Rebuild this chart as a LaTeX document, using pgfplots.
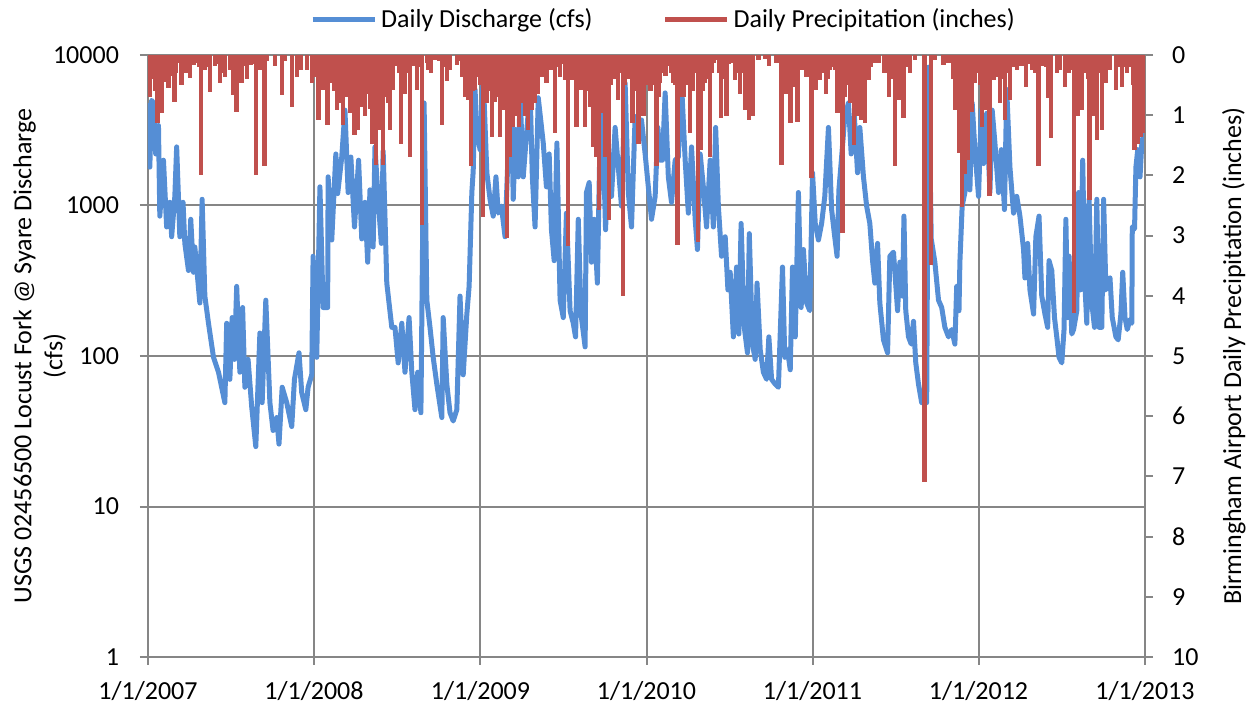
\documentclass[border=0pt]{standalone}
\usepackage{fontspec}
\setmainfont{Carlito}
\usepackage{pgfplots}
\pgfplotsset{compat=1.18}
\definecolor{flowblue}{RGB}{85,142,213}
\definecolor{rainred}{RGB}{192,80,77}
\definecolor{gridgray}{RGB}{134,134,134}
\begin{document}
\begin{tikzpicture}
\pgfplotsset{
  every axis/.append style={
    scale only axis, width=498.5pt, height=301pt,
    xmin=0, xmax=2192,
    font=\fontsize{13}{15.5}\selectfont,
    /pgf/number format/assume math mode=true,
    tick style={gridgray, line width=1pt}, major tick length=4pt,
    axis line style={gridgray, line width=1pt},
    tick align=outside,
  }
}
% discharge, log scale (left)
\begin{axis}[
  ymode=log, ymin=1, ymax=10000,
  grid=major, major grid style={gridgray, line width=1pt},
  xtick={0,365,731,1096,1461,1826,2192},
  xticklabels={1/1/2007,1/1/2008,1/1/2009,1/1/2010,1/1/2011,1/1/2012,1/1/2013},
  ytick={1,10,100,1000,10000}, yticklabels={1,10,100,1000,10000},
  yminorticks=false,
  xtick pos=lower, ytick pos=left,
  yticklabel style={xshift=-7pt},
  xticklabel style={yshift=-4.5pt},
  ylabel={USGS 02456500 Locust Fork @ Syare Discharge\\(cfs)},
  ylabel style={align=center, at={(axis description cs:-0.0752,0.5)}, anchor=south},
]
\coordinate (bl) at (rel axis cs:0,0);
\coordinate (tr) at (rel axis cs:1,1);
\addplot[flowblue, line width=2.5pt, line join=round] coordinates {
(1,4800)(4,1800)(8,5000)(12,4800)(17,2200)(23,3400)(26,850)(34,2000)(41,720)(48,1050)
(52,620)(59,1150)(63,2450)(70,620)(77,1050)(81,560)(89,370)(94,810)(100,360)(103,530)
(114,225)(119,1100)(125,250)(133,165)(144,98)(155,78)(169,49)(173,165)(180,70)(185,180)
(190,95)(195,290)(202,78)(208,210)(213,62)(220,95)(228,46)(237,25)(246,142)(251,49)
(259,235)(268,49)(275,32)(283,39)(288,26)(295,62)(305,49)(316,34)(322,70)(332,105)
(338,57)(347,44)(352,62)(360,75)(363,460)(371,98)(378,1330)(385,210)(395,210)(396,1550)
(404,590)(413,2200)(417,1200)(426,2100)(433,4300)(440,1220)(446,2100)(454,720)(463,2000)(470,600)
(477,1050)(483,420)(488,1270)(495,530)(499,2450)(506,1100)(513,560)(517,2300)(525,305)(536,155)
(543,155)(550,90)(558,165)(565,78)(574,180)(580,78)(587,44)(593,78)(600,42)(604,720)
(607,4800)(613,235)(620,155)(627,98)(635,65)(646,39)(649,180)(657,65)(664,42)(671,37)
(679,44)(686,250)(693,75)(701,190)(706,290)(712,1220)(715,1700)(719,5900)(723,3200)(730,2350)
(737,7100)(745,1650)(752,1100)(759,850)(765,1550)(770,890)(777,990)(785,620)(792,2350)(800,3300)
(803,1100)(808,3200)(814,1550)(818,5600)(825,1550)(833,3200)(840,5900)(845,1550)(851,720)(858,5200)
(869,2600)(876,1330)(882,2200)(887,690)(893,430)(899,2600)(906,235)(913,180)(920,890)(928,200)
(935,165)(940,134)(946,810)(952,190)(961,115)(964,1220)(970,1420)(975,420)(981,810)(988,305)
(994,3000)(999,4100)(1006,690)(1012,2350)(1019,1150)(1027,3300)(1034,1800)(1041,990)(1049,6500)(1056,1220)
(1063,720)(1071,3900)(1078,3000)(1085,3700)(1093,2200)(1100,1330)(1107,810)(1115,1150)(1121,3300)(1126,2000)
(1131,2000)(1137,5600)(1144,1550)(1151,1050)(1159,2000)(1166,2100)(1173,6500)(1181,2000)(1188,890)(1195,2450)
(1203,810)(1208,510)(1214,2200)(1221,1330)(1228,720)(1236,2000)(1243,720)(1248,3300)(1254,990)(1261,460)
(1269,620)(1275,275)(1280,360)(1287,134)(1294,390)(1299,140)(1304,760)(1311,155)(1318,105)(1322,650)
(1329,120)(1335,95)(1339,305)(1346,110)(1353,78)(1360,70)(1365,134)(1371,70)(1379,65)(1386,62)
(1395,390)(1400,98)(1406,110)(1412,81)(1417,390)(1423,134)(1430,1220)(1436,210)(1441,510)(1448,225)
(1455,200)(1461,1650)(1467,760)(1474,590)(1481,760)(1488,1150)(1496,3300)(1503,940)(1509,650)(1515,460)
(1519,1270)(1525,2100)(1532,3900)(1540,4800)(1546,2200)(1553,3900)(1560,1650)(1565,3300)(1573,1550)(1580,990)
(1587,760)(1593,430)(1598,305)(1604,560)(1609,225)(1617,128)(1626,105)(1631,460)(1639,490)(1648,200)
(1653,420)(1659,250)(1662,850)(1666,200)(1672,134)(1678,120)(1683,170)(1688,90)(1694,65)(1701,49)
(1712,49)(1716,8300)(1722,600)(1730,420)(1738,235)(1745,210)(1752,155)(1760,134)(1767,150)(1774,120)
(1778,290)(1783,200)(1785,420)(1790,990)(1796,1220)(1802,2100)(1807,1270)(1812,4800)(1818,2350)(1826,1150)
(1832,4300)(1837,1900)(1844,4100)(1851,1220)(1856,4300)(1862,2600)(1870,1220)(1876,2350)(1883,940)(1888,5900)
(1895,1800)(1903,890)(1910,1150)(1917,850)(1925,510)(1928,330)(1934,560)(1939,275)(1947,190)(1952,620)
(1959,850)(1965,250)(1972,190)(1978,155)(1981,430)(1987,370)(1993,180)(1998,134)(2003,98)(2009,90)
(2014,150)(2018,810)(2022,180)(2025,460)(2031,140)(2035,150)(2042,200)(2046,1220)(2050,275)(2055,2000)
(2060,290)(2064,165)(2069,1100)(2075,225)(2081,155)(2086,1100)(2091,155)(2097,155)(2101,1100)(2106,275)
(2112,305)(2115,330)(2120,180)(2128,134)(2133,128)(2139,190)(2143,360)(2148,180)(2153,150)(2159,175)
(2163,165)(2164,720)(2169,700)(2172,1800)(2176,2350)(2181,1550)(2185,2600)(2189,3000)(2192,2800)
};
\end{axis}
% precipitation, reversed (right)
\begin{axis}[
  ymin=0, ymax=10, y dir=reverse,
  axis y line*=right, axis x line=none,
  ytick={0,1,...,10},
  yticklabel style={xshift=6pt},
  ylabel={Birmingham Airport Daily Precipitation (inches)},
  ylabel style={at={(axis description cs:1.0702,0.5)}, anchor=north},
  legend style={at={(axis description cs:0.5,1)}, anchor=center, xshift=9pt, yshift=18pt,
    draw=none, fill=none, legend columns=2,
    /tikz/every even column/.append style={column sep=33pt}},
  legend image code/.code={\draw[#1] (0pt,0pt) -- (31pt,0pt);},
]
% larger storms
\addplot[rainred, line width=2.2pt, ycomb, forget plot] coordinates {
(4,0.69)(12,0.25)(21,1.13)(30,0.97)(37,0.25)(45,0.55)(52,0.25)(58,0.78)(67,0.14)(74,0.5)
(92,0.39)(100,0.17)(107,0.14)(117,1.99)(125,0.25)(136,0.61)(147,0.19)(158,0.47)(169,0.36)(180,0.25)
(188,0.66)(195,0.94)(206,0.47)(213,0.19)(226,0.17)(237,1.99)(246,0.25)(256,1.85)(279,0.19)(294,0.66)
(316,0.86)(327,0.36)(336,0.25)(349,0.25)(360,0.47)(367,0.36)(375,1.08)(385,0.58)(395,1.16)(405,0.47)
(415,0.91)(422,0.8)(429,1.16)(437,0.69)(444,0.97)(454,1.33)(462,1.25)(470,0.86)(477,1.02)(484,0.64)
(492,1.47)(501,1.83)(510,1.25)(517,1.83)(525,0.69)(532,1.25)(539,0.58)(547,0.19)(556,1.47)(565,0.64)
(576,1.69)(583,0.19)(591,0.58)(603,2.82)(613,0.14)(622,0.3)(631,0.08)(646,1.16)(657,0.44)(664,0.25)
(679,0.17)(690,0.36)(698,0.69)(704,0.75)(710,1.85)(719,0.58)(726,0.36)(736,2.69)(745,0.8)(756,1.36)
(763,0.78)(774,1.36)(781,0.91)(789,3.04)(796,1.69)(803,1.19)(811,1.02)(816,1.19)(822,0.8)(829,1.02)
(835,1.25)(843,0.91)(851,0.8)(858,0.64)(865,0.36)(876,0.47)(887,0.25)(895,1.3)(906,0.36)(917,0.42)
(924,3.18)(931,0.42)(942,1.19)(952,0.58)(961,1.19)(972,0.86)(979,1.52)(986,1.69)(992,2.57)(999,0.97)
(1006,1.69)(1014,2.74)(1023,0.36)(1033,0.75)(1044,4.01)(1052,0.36)(1065,1.13)(1078,1.47)(1089,1.02)(1100,0.47)
(1111,0.25)(1118,1.85)(1126,0.47)(1133,0.14)(1144,0.19)(1155,0.47)(1164,3.16)(1173,0.69)(1179,0.69)(1192,1.3)
(1201,0.08)(1209,3.1)(1216,1.58)(1225,0.47)(1236,1.69)(1243,0.14)(1250,0.08)(1260,1.05)(1272,1.02)(1282,0.14)
(1291,0.42)(1302,0.64)(1313,0.91)(1321,1.08)(1329,1.02)(1342,0.08)(1357,0.06)(1365,0.19)(1382,0.14)(1393,1.83)
(1404,0.64)(1413,1.13)(1423,0.53)(1428,1.11)(1437,0.25)(1448,0.36)(1459,2.05)(1468,0.58)(1477,0.42)(1490,0.64)
(1499,0.25)(1510,0.25)(1516,0.97)(1527,2.96)(1536,0.36)(1543,0.8)(1552,1.5)(1560,1.02)(1568,1.08)(1576,1.13)
(1584,0.42)(1595,0.14)(1606,0.14)(1619,0.3)(1629,0.69)(1642,1.85)(1650,0.75)(1661,1.05)(1675,0.3)(1686,0.08)
(1707,7.1)(1722,3.49)(1730,0.08)(1749,0.17)(1760,0.14)(1774,0.91)(1783,1.63)(1789,2.52)(1796,1.97)(1802,1.74)
(1811,0.94)(1818,0.47)(1834,1.19)(1842,0.91)(1850,2.35)(1859,0.42)(1866,0.36)(1873,0.8)(1884,1.08)(1895,0.75)
(1910,0.25)(1920,0.19)(1930,0.53)(1943,0.25)(1958,1.85)(1969,0.19)(1980,0.72)(1985,1.38)(1998,0.3)(2005,0.25)
(2016,0.53)(2024,0.3)(2031,0.25)(2036,4.29)(2044,1.02)(2053,0.91)(2062,0.25)(2070,2.41)(2079,1.02)(2086,1.41)
(2097,1.25)(2106,0.47)(2115,0.25)(2128,0.58)(2141,0.53)(2152,0.3)(2161,0.14)(2169,1.58)(2176,1.47)(2183,1.36)
(2189,1.3)
};
% smaller rain days
\addplot[rainred, line width=2.2pt, ycomb, forget plot] coordinates {
(8,0.4)(16,0.6)(26,0.5)(34,0.3)(41,0.45)(49,0.35)(55,0.2)(62,0.3)(80,0.2)(85,0.3)
(112,0.2)(131,0.2)(153,0.15)(163,0.3)(200,0.3)(218,0.4)(232,0.15)(252,0.2)(262,0.1)(300,0.1)
(371,0.3)(380,0.4)(390,0.55)(400,0.3)(410,0.6)(418,0.45)(426,0.5)(433,0.7)(441,0.4)(449,0.6)
(458,0.8)(466,0.5)(474,0.6)(481,0.4)(488,0.9)(496,0.7)(505,0.9)(513,0.7)(521,0.4)(528,0.8)
(536,0.3)(552,0.3)(560,0.4)(570,0.3)(580,0.1)(595,0.2)(617,0.25)(640,0.1)(652,0.2)(685,0.1)
(694,0.3)(707,0.5)(714,0.6)(723,0.3)(731,0.5)(740,0.4)(750,0.6)(760,0.5)(768,0.7)(778,0.5)
(785,0.8)(792,0.9)(799,0.7)(807,0.6)(813,0.8)(819,0.5)(826,0.6)(832,0.7)(839,0.5)(847,0.4)
(855,0.3)(862,0.2)(870,0.2)(880,0.25)(900,0.2)(912,0.15)(935,0.3)(946,0.5)(956,0.4)(966,0.6)
(976,0.7)(983,0.9)(989,0.8)(996,0.6)(1003,0.9)(1010,0.8)(1018,0.5)(1028,0.4)(1038,0.3)(1048,0.5)
(1058,0.4)(1070,0.6)(1083,0.7)(1094,0.5)(1105,0.6)(1114,0.5)(1122,0.7)(1129,0.3)(1138,0.35)(1150,0.3)
(1160,0.5)(1168,0.7)(1176,0.4)(1185,0.5)(1197,0.6)(1205,0.3)(1213,0.7)(1220,0.6)(1230,0.4)(1240,0.3)
(1256,0.3)(1266,0.4)(1278,0.15)(1296,0.3)(1308,0.3)(1317,0.4)(1325,0.5)(1454,0.3)(1464,0.5)(1472,0.3)
(1483,0.3)(1494,0.4)(1505,0.2)(1520,0.5)(1531,0.7)(1539,0.5)(1547,0.6)(1556,0.7)(1564,0.5)(1572,0.6)
(1580,0.4)(1590,0.2)(1625,0.2)(1636,0.4)(1646,0.5)(1655,0.3)(1668,0.2)(1770,0.4)(1779,0.6)(1786,0.8)
(1793,0.7)(1799,0.6)(1806,0.5)(1814,0.4)(1822,0.3)(1830,0.5)(1838,0.4)(1846,0.6)(1854,0.3)(1870,0.3)
(1880,0.4)(1890,0.3)(1903,0.2)(1935,0.15)(1950,0.3)(1975,0.2)(2040,0.5)(2048,0.4)(2057,0.3)(2066,0.4)
(2075,0.5)(2083,0.4)(2092,0.3)(2101,0.4)(2135,0.2)(2146,0.2)(2157,0.2)(2165,0.5)(2172,0.6)(2180,0.5)
(2186,0.7)
};
\addlegendimage{flowblue, line width=2.5pt}
\addlegendentry{Daily Discharge (cfs)}
\addlegendimage{rainred, line width=2.5pt}
\addlegendentry{Daily Precipitation (inches)}
\end{axis}
\pgfresetboundingbox
\path[use as bounding box] ([shift={(-74pt,-25.5pt)}]bl) rectangle ([shift={(50.5pt,27.5pt)}]tr);
\end{tikzpicture}
\end{document}
